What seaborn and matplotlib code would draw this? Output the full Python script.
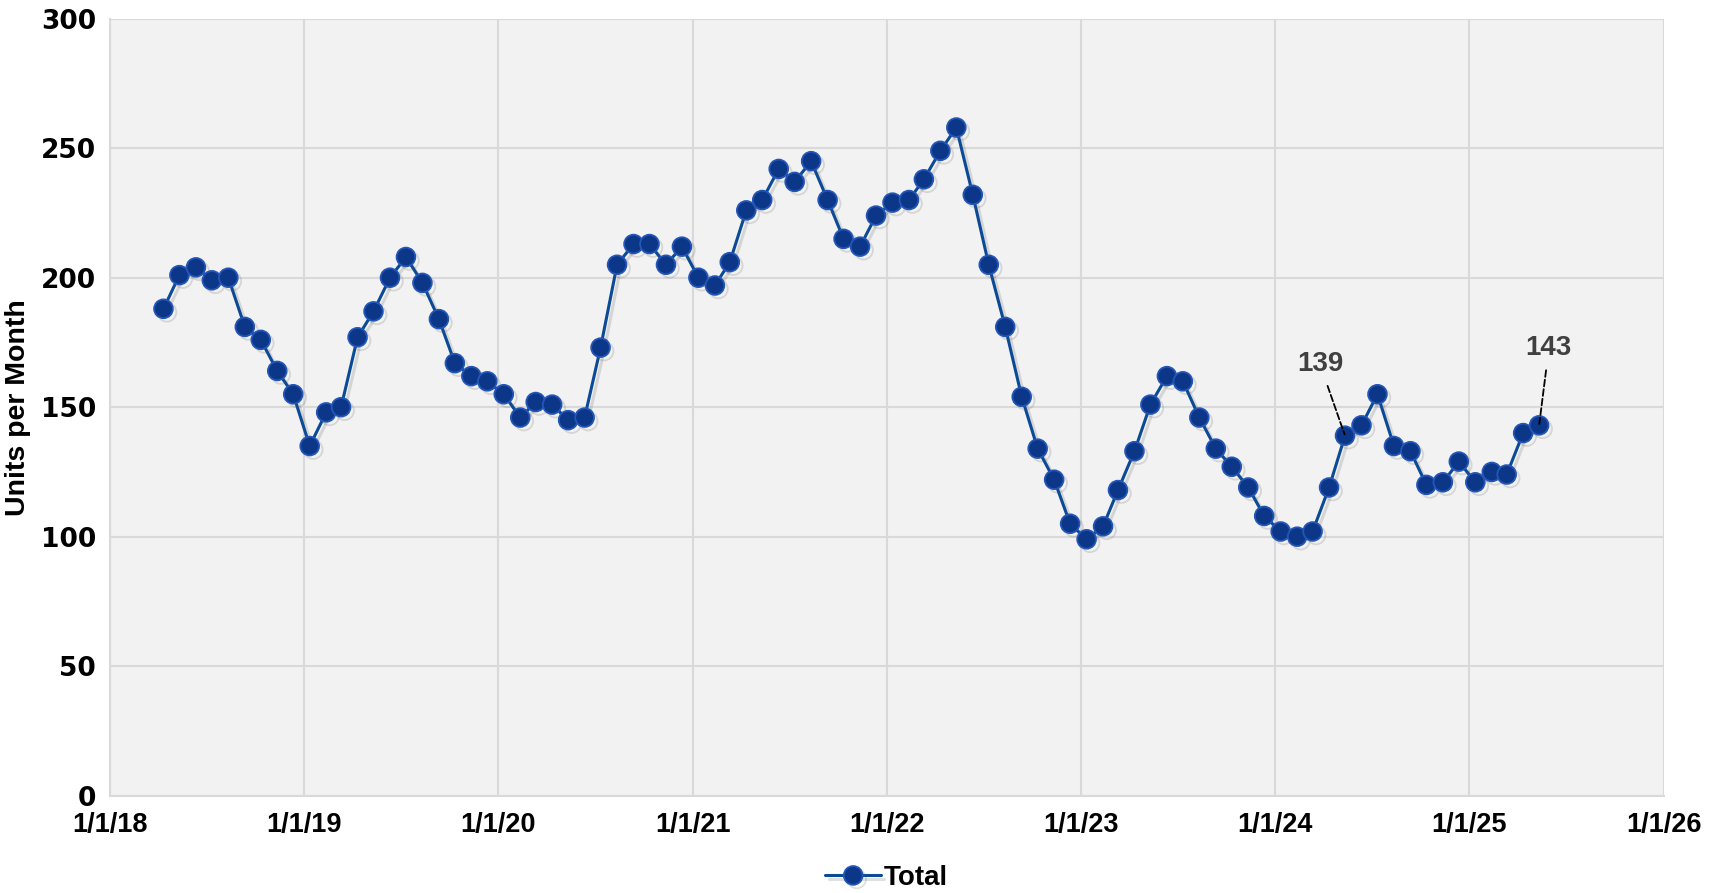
import matplotlib
matplotlib.use("Agg")
import matplotlib.pyplot as plt
import matplotlib.dates as mdates
import matplotlib.patheffects as pe
import seaborn as sns
import pandas as pd

# monthly totals, Apr 2018 .. May 2025 (plotted mid-month)
months = pd.date_range("2018-04-01", "2025-05-01", freq="MS") + pd.Timedelta(days=11)
total = [
    188, 201, 204, 199, 200, 181, 176, 164, 155,                  # 2018
    135, 148, 150, 177, 187, 200, 208, 198, 184, 167, 162, 160,   # 2019
    155, 146, 152, 151, 145, 146, 173, 205, 213, 213, 205, 212,   # 2020
    200, 197, 206, 226, 230, 242, 237, 245, 230, 215, 212, 224,   # 2021
    229, 230, 238, 249, 258, 232, 205, 181, 154, 134, 122, 105,   # 2022
    99, 104, 118, 133, 151, 162, 160, 146, 134, 127, 119, 108,    # 2023
    102, 100, 102, 119, 139, 143, 155, 135, 133, 120, 121, 129,   # 2024
    121, 125, 124, 140, 143,                                      # 2025
]
year_ticks = pd.date_range("2018-01-01", "2026-01-01", freq="YS")
y_ticks = [0, 50, 100, 150, 200, 250, 300]

df = pd.DataFrame({"Month": months, "Total": total})

sns.set_theme(style="white")
plt.rcParams["font.family"] = ["Liberation Sans", "DejaVu Sans"]

fig = plt.figure(figsize=(17.15, 8.93), dpi=100)
ax = fig.add_axes([0.064, 0.109, 0.906, 0.870])
ax.set_facecolor("#f2f2f2")

sns.lineplot(data=df, x="Month", y="Total", ax=ax, color="#0b4a96", linewidth=2.2,
             marker="o", markersize=13.5, markerfacecolor="#0c3788",
             markeredgecolor="#2456b8", markeredgewidth=1.3, label="Total",
             path_effects=[pe.SimpleLineShadow(offset=(2.5, -2.5), shadow_color="#555555", alpha=0.18),
                           pe.Normal()])

ax.set_xlim(year_ticks[0], year_ticks[-1])
ax.set_ylim(0, 300)
ax.set_xticks(year_ticks)
ax.xaxis.set_major_formatter(plt.FuncFormatter(
    lambda v, p: (lambda d: f"{d.month}/{d.day}/{d:%y}")(mdates.num2date(v))))
ax.set_yticks(y_ticks)
ax.grid(True, color="#d9d9d9", linewidth=1.5)
for s in ["top", "right"]:
    ax.spines[s].set_visible(False)
for s in ["left", "bottom"]:
    ax.spines[s].set_color("#d9d9d9")
    ax.spines[s].set_linewidth(1.5)
ax.tick_params(axis="both", length=0, labelcolor="black")
ax.tick_params(axis="x", labelsize=19.5, pad=12)
ax.tick_params(axis="y", labelsize=19, pad=10)
for t in ax.get_xticklabels():
    t.set_fontweight("bold")
for t in ax.get_yticklabels():
    t.set_fontweight("bold")
    t.set_family(["DejaVu Sans"])
ax.set_xlabel("")
ax.set_ylabel("Units per Month", fontsize=20.5, fontweight="bold", color="black")
ax.yaxis.set_label_coords(-0.051, 0.5)

# data callouts
for idx, dx, dy in [(list(total).index(139), -18, 42),
                    (len(months) - 1, 7, 46)]:
    ax.annotate(str(total[idx]), xy=(months[idx], total[idx]),
                xytext=(dx, dy), textcoords="offset points",
                ha="center", va="bottom", fontsize=20, fontweight="bold", color="#404040",
                arrowprops=dict(arrowstyle="-", linestyle="--", color="black", lw=1.3,
                                shrinkA=4, shrinkB=1))

leg = ax.legend(loc="upper center", bbox_to_anchor=(0.5, -0.068), frameon=False,
                fontsize=20, handlelength=2.0, handletextpad=0.1, borderpad=0.1)
for t in leg.get_texts():
    t.set_fontweight("bold")
    t.set_color("black")

fig.savefig("out.png", dpi=100, facecolor="white")
